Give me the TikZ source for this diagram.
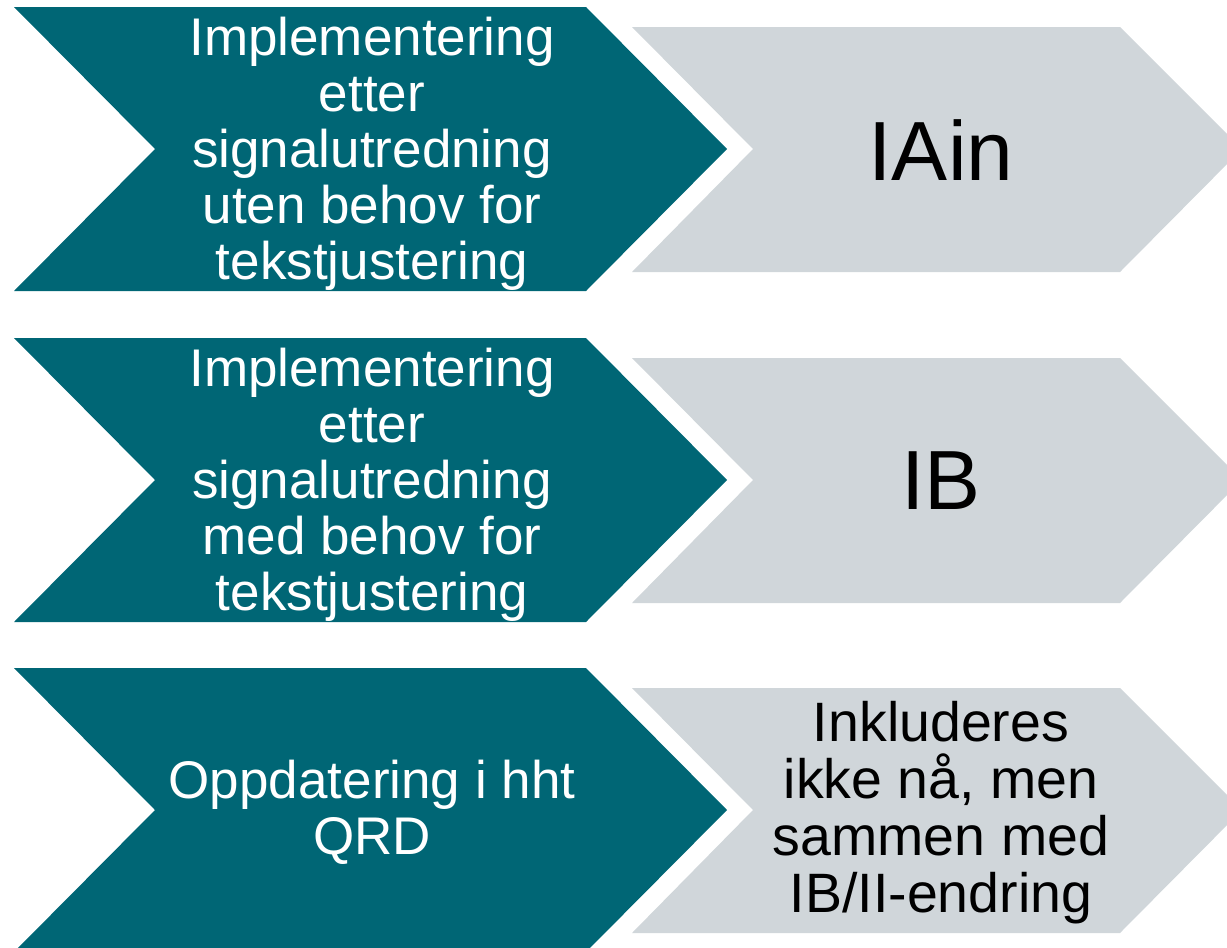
\documentclass[tikz,border=0pt]{standalone}
\usepackage{fontspec}
\setmainfont{Liberation Sans}
\definecolor{stepteal}{RGB}{0, 102, 117}
\definecolor{stepgrey}{RGB}{208, 214, 218}

\begin{document}
\begin{tikzpicture}[x=1pt,y=-1pt]
\tikzset{
  tealtext/.style={text=white, align=center, font=\fontsize{53}{56}\selectfont},
  greytext/.style={text=black, align=center, font=\fontsize{55.5}{57}\selectfont},
  bigtext/.style={text=black, font=\fontsize{84}{90}\selectfont}
}
\useasboundingbox (0,0) rectangle (1227,948);
\clip (0,0) rectangle (1227,948);
\def\tealpath{-- ++(572,0) -- ++(141,142) -- ++(-141,142) -- ++(-572,0) -- ++(141,-142) -- cycle}
\def\greypath{-- ++(488,0) -- ++(122,122) -- ++(-122,123) -- ++(-488,0) -- ++(121,-123) -- cycle}

% chevrons, one row every 331pt
\foreach \row in {0,331,661}{
  \fill[stepteal] (14,7+\row) \tealpath;
  \fill[stepgrey] (632,27+\row) \greypath;
}

% left column
\node[tealtext] (utenbehov) at (372,154) {Implementering\\etter\\signalutredning\\uten behov for\\tekstjustering};
\node[tealtext] (medbehov) at (372,485) {Implementering\\etter\\signalutredning\\med behov for\\tekstjustering};
\node[tealtext] (qrd) at (372,812) {Oppdatering i hht\\QRD};

% right column
\node[bigtext] (iain) at (941,150) {IAin};
\node[bigtext] (ib) at (941,481) {IB};
\node[greytext] (senere) at (941,813) {Inkluderes\\ikke nå, men\\sammen med\\IB/II-endring};

\end{tikzpicture}
\end{document}
